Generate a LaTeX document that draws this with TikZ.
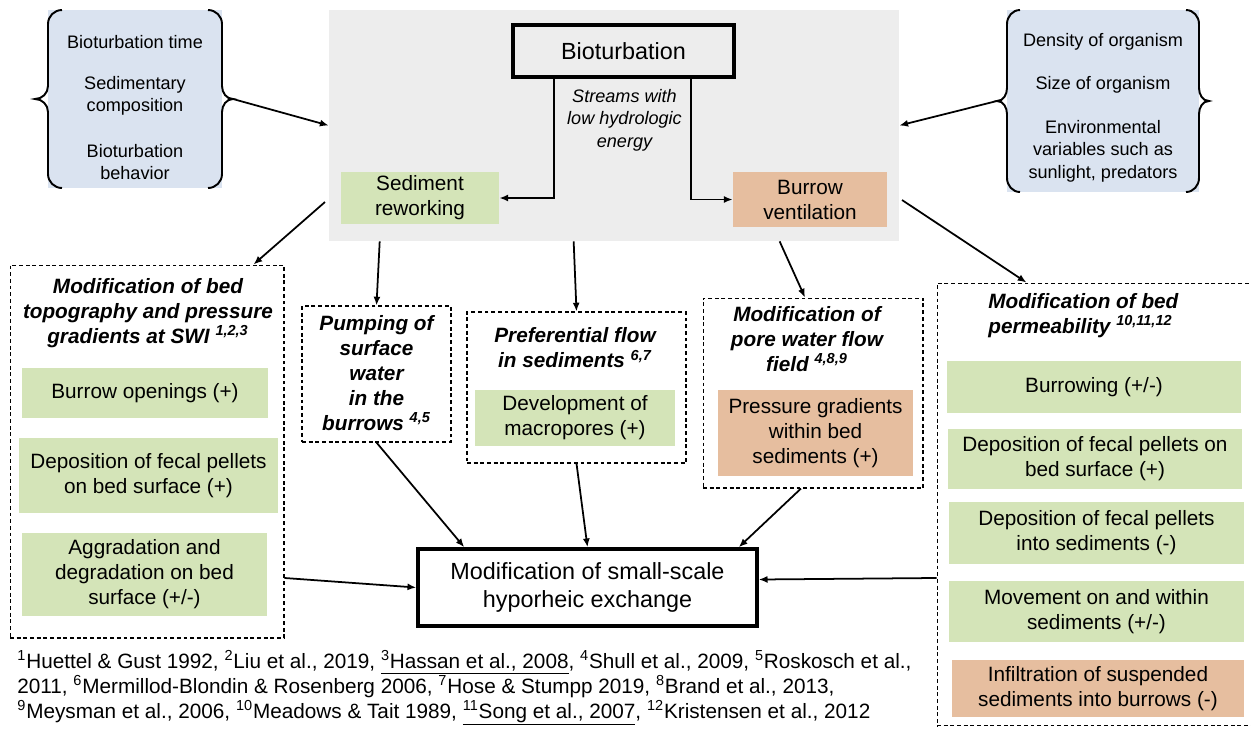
\documentclass[tikz,border=0pt]{standalone}
\usepackage{fontspec}
\setmainfont{Liberation Sans}
\usetikzlibrary{positioning}
\usetikzlibrary{arrows.meta}
\definecolor{boxgray}{HTML}{EDEDED}
\definecolor{boxblue}{HTML}{DAE3F0}
\definecolor{boxgreen}{HTML}{D4E4B8}
\definecolor{boxpeach}{HTML}{E6BE9F}
\newcommand{\fmain}{\fontsize{11.8}{14.2}\selectfont}
\newcommand{\fsmall}{\fontsize{10.3}{12.7}\selectfont}
\newcommand{\fbig}{\fontsize{13.3}{15.9}\selectfont}
\tikzstyle{ctrl} = [fill=boxblue, inner sep=0pt]
\tikzstyle{ctrltext} = [align=center, font=\fsmall, inner sep=0pt]
\tikzstyle{grn} = [fill=boxgreen, align=center, font=\fmain, inner sep=0pt]
\tikzstyle{pch} = [fill=boxpeach, align=center, font=\fmain, inner sep=0pt]
\tikzstyle{group} = [draw, dash pattern=on 2.2pt off 1.6pt, line width=0.6pt, inner sep=0pt]
\tikzstyle{ttl} = [align=center, font=\fmain\bfseries\itshape, inner sep=0pt]
\tikzstyle{heavy} = [draw, line width=2pt, inner sep=0pt]
\tikzstyle{arr} = [-{Latex[length=5pt,width=4pt]}, line width=1pt]
\tikzstyle{brc} = [line width=1.1pt]

\begin{document}
\begin{tikzpicture}[x=0.02cm, y=-0.02cm]
    \clip (0,0) rectangle (1251,728);

    % controls on both sides
    \node[ctrl, minimum width=3.48cm, minimum height=3.56cm] (ctrlL) at (135,99) {};
    \node[ctrltext] (ctrlL1) at (135,42) {Bioturbation time};
    \node[ctrltext] (ctrlL2) at (135,96) {Sedimentary\\composition};
    \node[ctrltext] (ctrlL3) at (135,162) {Bioturbation\\behavior};
    \draw[brc] (62,10) to[out=180,in=90] (48,24) -- (48,86) to[out=-90,in=0] (35,99) to[out=0,in=90] (48,112) -- (48,174) to[out=-90,in=180] (62,188);
    \draw[brc] (208,10) to[out=0,in=90] (222,24) -- (222,86) to[out=-90,in=180] (233,99) to[out=180,in=90] (222,112) -- (222,174) to[out=-90,in=0] (208,188);
    \coordinate (ctrlLtip) at (233,99);

    \node[ctrl, minimum width=3.84cm, minimum height=3.64cm] (ctrlR) at (1103,101) {};
    \node[ctrltext] (ctrlR1) at (1103,42) {Density of organism};
    \node[ctrltext] (ctrlR2) at (1103,85) {Size of organism};
    \node[ctrltext] (ctrlR3) at (1103,151) {Environmental\\variables such as\\sunlight, predators};
    \draw[brc] (1020,10) to[out=180,in=90] (1007,24) -- (1007,88) to[out=-90,in=0] (997,101) to[out=0,in=90] (1007,114) -- (1007,178) to[out=-90,in=180] (1020,192);
    \draw[brc] (1186,10) to[out=0,in=90] (1199,24) -- (1199,88) to[out=-90,in=180] (1209,101) to[out=180,in=90] (1199,114) -- (1199,178) to[out=-90,in=0] (1186,192);
    \coordinate (ctrlRtip) at (997,101);

    % bioturbation block
    \node[fill=boxgray, minimum width=11.4cm, minimum height=4.62cm] (biobox) at (614,125.5) {};
    \node[heavy, minimum width=4.42cm, minimum height=1.04cm, font=\fbig] (bio) at (623.5,51) {Bioturbation};
    \node[grn, minimum width=3.16cm, minimum height=1.04cm] (sedrew) at (420,198) {Sediment\\reworking};
    \node[pch, minimum width=3.08cm, minimum height=1.1cm] (burvent) at (810,199.5) {Burrow\\ventilation};
    \node[ctrltext, font=\fsmall\itshape] (streams) at (624.5,120) {Streams with\\low hydrologic\\energy};
    \draw[arr] ([xshift=-1.39cm]bio.south) |- (sedrew.east);
    \draw[arr] ([xshift=1.35cm]bio.south) |- (burvent.west);

    \draw[arr] (ctrlLtip) -- (biobox.west);
    \draw[arr] (ctrlRtip) -- (biobox.east);

    % left group
    \node[group, minimum width=5.48cm, minimum height=7.46cm] (topo) at (147,451.5) {};
    \node[ttl] (topottl) at (148,313) {Modification of bed\\topography and pressure\\gradients at SWI \textsuperscript{1,2,3}};
    \node[grn, minimum width=4.92cm, minimum height=1.0cm] (topo1) at (145,393) {Burrow openings (+)};
    \node[grn, minimum width=5.18cm, minimum height=1.5cm] (topo2) at (148.5,475.5) {Deposition of fecal pellets\\on bed surface (+)};
    \node[grn, minimum width=4.9cm, minimum height=1.66cm] (topo3) at (144.5,574.5) {Aggradation and\\degradation on bed\\surface (+/-)};

    % middle groups
    \node[group, minimum width=2.98cm, minimum height=2.72cm] (pump) at (376.5,374) {};
    \node[ttl] (pumpttl) at (376.5,373) {Pumping of\\surface\\water\\in the\\burrows \textsuperscript{4,5}};

    \node[group, minimum width=4.38cm, minimum height=3.02cm] (pref) at (576.5,387.5) {};
    \node[ttl] (prefttl) at (575,348) {Preferential flow\\in sediments \textsuperscript{6,7}};
    \node[grn, minimum width=4.0cm, minimum height=1.12cm] (pref1) at (575,418) {Development of\\macropores (+)};

    \node[group, minimum width=4.4cm, minimum height=3.8cm] (pore) at (813,393) {};
    \node[ttl] (porettl) at (807,339) {Modification of\\pore water flow\\field \textsuperscript{4,8,9}};
    \node[pch, minimum width=3.9cm, minimum height=1.72cm] (pore1) at (815.5,433) {Pressure gradients\\within bed\\sediments (+)};

    % right group
    \node[group, minimum width=6.5cm, minimum height=8.86cm] (perm) at (1099.5,504.5) {};
    \node[ttl, align=left, anchor=west] (permttl) at (988,315.5) {Modification of bed\\permeability \textsuperscript{10,11,12}};
    \node[grn, minimum width=5.88cm, minimum height=1.04cm] (perm1) at (1094,387) {Burrowing (+/-)};
    \node[grn, minimum width=5.88cm, minimum height=1.2cm] (perm2) at (1095,459) {Deposition of fecal pellets on\\bed surface (+)};
    \node[grn, minimum width=5.9cm, minimum height=1.24cm] (perm3) at (1096.5,533) {Deposition of fecal pellets\\into sediments (-)};
    \node[grn, minimum width=5.9cm, minimum height=1.22cm] (perm4) at (1096.5,611.5) {Movement on and within\\sediments (+/-)};
    \node[pch, minimum width=5.84cm, minimum height=1.14cm] (perm5) at (1098,688.5) {Infiltration of suspended\\sediments into burrows (-)};

    % result
    \node[heavy, fill=white, minimum width=6.78cm, minimum height=1.54cm, font=\fbig, align=center] (hypo) at (587.5,587.5) {Modification of small-scale\\hyporheic exchange};

    % arrows out of the bioturbation block
    \coordinate (gL) at (325,202);
    \coordinate (gR) at (902,200);
    \draw[arr] (gL) -- ([xshift=-0.62cm]topo.north east);
    \draw[arr] ([xshift=1.02cm]biobox.south west) -- (pump.north);
    \draw[arr] ([xshift=4.9cm]biobox.south west) -- (pref.north);
    \draw[arr] ([xshift=9.02cm]biobox.south west) -- ([xshift=-0.16cm]pore.north);
    \draw[arr] (gR) -- ([xshift=1.8cm]perm.north west);

    % arrows into the result
    \draw[arr] ([yshift=-2.53cm]topo.east) -- (hypo.west);
    \draw[arr] (pump.south) -- ([xshift=0.96cm]hypo.north west);
    \draw[arr] (pref.south) -- (hypo.north);
    \draw[arr] ([xshift=-0.24cm]pore.south) -- ([xshift=-0.4cm]hypo.north east);
    \draw[arr] ([yshift=-1.47cm]perm.west) -- ([yshift=0.16cm]hypo.east);

    % references
    \node[anchor=north west, align=left, font=\fmain, inner sep=0pt] (refs) at (17,650) {\textsuperscript{1}Huettel \& Gust 1992, \textsuperscript{2}Liu et al., 2019, \underline{\textsuperscript{3}Hassan et al., 2008}, \textsuperscript{4}Shull et al., 2009, \textsuperscript{5}Roskosch et al.,\\
    2011, \textsuperscript{6}Mermillod-Blondin \& Rosenberg 2006, \textsuperscript{7}Hose \& Stumpp 2019, \textsuperscript{8}Brand et al., 2013,\\
    \textsuperscript{9}Meysman et al., 2006, \textsuperscript{10}Meadows \& Tait 1989, \underline{\textsuperscript{11}Song et al., 2007}, \textsuperscript{12}Kristensen et al., 2012};
\end{tikzpicture}
\end{document}
